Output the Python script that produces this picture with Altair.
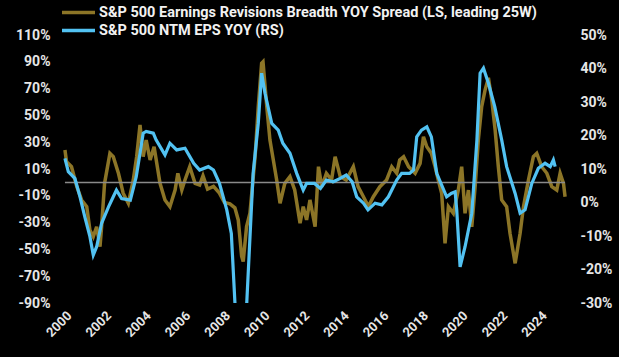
import altair as alt
import pandas as pd

OLIVE_LABEL = "S&P 500 Earnings Revisions Breadth YOY Spread (LS, leading 25W)"
BLUE_LABEL = "S&P 500 NTM EPS YOY (RS)"
OLIVE = "#8C7527"
BLUE = "#52C2F2"

olive_year = [2000.0, 2000.08, 2000.33, 2000.6, 2000.84, 2001.1, 2001.26, 2001.43, 2001.6, 2001.77,
              2001.85, 2002.0, 2002.27, 2002.44, 2002.7, 2002.94, 2003.2, 2003.45, 2003.62, 2003.79,
              2003.95, 2004.1, 2004.3, 2004.5, 2004.8, 2005.05, 2005.3, 2005.56, 2005.7, 2005.9,
              2006.06, 2006.3, 2006.57, 2006.8, 2006.97, 2007.2, 2007.5, 2007.8, 2008.05, 2008.33,
              2008.58, 2008.75, 2008.92, 2009.0, 2009.17, 2009.34, 2009.6, 2009.76, 2009.93, 2010.0,
              2010.19, 2010.35, 2010.52, 2010.69, 2010.86, 2011.1, 2011.36, 2011.6, 2011.87, 2012.03,
              2012.2, 2012.37, 2012.63, 2012.8, 2012.97, 2013.2, 2013.46, 2013.64, 2013.9, 2014.2,
              2014.56, 2014.8, 2015.07, 2015.32, 2015.57, 2015.9, 2016.24, 2016.5, 2016.75, 2016.9,
              2017.1, 2017.35, 2017.68, 2017.93, 2018.1, 2018.27, 2018.5, 2018.69, 2018.85, 2019.02,
              2019.19, 2019.36, 2019.61, 2019.86, 2020.03, 2020.2, 2020.37, 2020.54, 2020.71, 2020.87,
              2021.04, 2021.21, 2021.38, 2021.55, 2021.72, 2021.88, 2022.05, 2022.3, 2022.47, 2022.73,
              2022.98, 2023.15, 2023.4, 2023.65, 2023.82, 2024.07, 2024.33, 2024.58, 2024.83, 2025.0,
              2025.17, 2025.25]
olive_value = [24.2, 15.4, 11.7, -3.2, -13.1, -18.1, -35.5, -40.5, -33.1, -48.0,
               -33.1, -0.7, 21.7, 19.2, 6.8, -8.1, -15.6, 1.8, 19.2, 42.8,
               19.2, 31.6, 16.7, 26.6, -0.7, -13.1, -18.1, -5.7, 6.8, -5.7,
               1.8, 11.7, -0.7, -2.0, 5.0, -5.0, -3.0, -8.0, -15.0, -16.0,
               -19.0, -28.0, -55.0, -59.0, -33.0, -23.0, 19.0, 56.5, 88.9, 90.0,
               56.5, 31.6, 16.7, 1.8, -15.6, -0.7, 4.3, -5.7, -30.5, -18.1,
               -28.0, -13.1, -33.1, 11.7, -3.2, 6.8, 1.8, 19.2, 4.3, 1.8,
               11.7, -3.2, -10.7, -18.1, -10.7, -3.2, 1.8, 11.7, 6.8, 16.7,
               19.2, 11.7, 6.8, 14.2, 34.1, 26.6, 21.7, 11.7, 1.8, -8.1,
               -45.5, -18.1, -23.1, -5.7, 11.7, -23.1, -5.7, -33.1, -3.2, 31.6,
               56.5, 68.9, 78.0, 61.5, 39.1, 11.7, -13.1, -18.1, -38.0, -60.4,
               -38.0, -18.1, 1.8, 19.2, 21.7, 11.7, 6.8, -3.2, -5.7, 6.8,
               -0.7, -10.7]

blue_year = [2000.0, 2000.17, 2000.5, 2000.76, 2001.0, 2001.26, 2001.43, 2001.6, 2001.85, 2002.2,
             2002.44, 2002.6, 2002.86, 2003.3, 2003.6, 2003.95, 2004.1, 2004.46, 2004.6, 2005.05,
             2005.3, 2005.64, 2006.06, 2006.5, 2006.8, 2007.24, 2007.5, 2007.8, 2008.17, 2008.4,
             2008.6, 2008.8, 2009.0, 2009.17, 2009.5, 2009.76, 2009.93, 2010.1, 2010.44, 2010.77,
             2011.0, 2011.36, 2011.7, 2012.03, 2012.2, 2012.6, 2012.9, 2013.2, 2013.55, 2013.9,
             2014.2, 2014.5, 2014.73, 2015.07, 2015.3, 2015.66, 2016.0, 2016.33, 2016.75, 2017.0,
             2017.4, 2017.6, 2017.76, 2018.0, 2018.27, 2018.5, 2018.77, 2019.27, 2019.5, 2019.7,
             2019.78, 2019.95, 2020.2, 2020.54, 2020.8, 2020.96, 2021.13, 2021.38, 2021.7, 2022.05,
             2022.3, 2022.73, 2022.98, 2023.23, 2023.57, 2023.9, 2024.24, 2024.5, 2024.66, 2024.75]
blue_value = [13.2, 9.2, 7.2, 1.7, -4.2, -10.2, -15.7, -13.2, -6.2, -1.3,
              1.7, 3.7, 1.2, 0.7, 7.7, 20.7, 21.2, 20.7, 18.7, 14.2,
              17.7, 15.7, 16.2, 11.7, 9.7, 10.7, 9.7, 5.7, -2.2, -9.2,
              -32.0, -38.0, -38.0, -31.0, 8.7, 23.6, 38.6, 32.6, 23.6, 21.6,
              17.7, 14.7, 8.7, 3.7, 5.7, 5.7, 4.2, 6.7, 6.2, 7.2,
              8.2, 6.2, 1.7, -0.2, -2.2, -0.2, -0.7, 1.7, 6.7, 8.7,
              8.7, 9.7, 19.6, 21.6, 22.6, 19.6, 8.7, 1.7, 2.7, 3.2,
              -2.2, -19.2, -13.2, -3.2, 18.7, 38.6, 40.1, 35.6, 28.6, 18.7,
              10.7, 2.7, -3.2, -2.2, 5.7, 10.2, 11.7, 10.7, 12.7, 10.7]

left_ticks = list(range(-90, 111, 20))
right_ticks = list(range(-30, 51, 10))
year_ticks = list(range(2000, 2025, 2))

olive_df = pd.DataFrame({"year": olive_year, "value": olive_value, "series": OLIVE_LABEL})
blue_df = pd.DataFrame({"year": blue_year, "value": blue_value, "series": BLUE_LABEL})
zero_df = pd.DataFrame({"year": [olive_year[0]], "year2": [olive_year[-1]], "value": [0]})

label_style = dict(labelColor="#e6e6e6", labelFont="Roboto", labelFontSize=14,
                   labelFontWeight="bold", grid=False, domain=False, ticks=False, title=None,
                   labelOverlap=False)

x_scale = alt.Scale(domain=[1999.75, 2025.6], nice=False, zero=False)
x_enc = alt.X("year:Q", scale=x_scale,
              axis=alt.Axis(values=year_ticks, format="d", labelAngle=-45, labelPadding=6,
                            **{**label_style, "labelFontSize": 13}))

color = alt.Color("series:N",
                  scale=alt.Scale(domain=[OLIVE_LABEL, BLUE_LABEL], range=[OLIVE, BLUE]),
                  legend=alt.Legend(orient="none", legendX=11, legendY=-30, title=None,
                                    symbolType="M-3,0L3,0", symbolSize=121, symbolStrokeWidth=3.5,
                                    labelColor="#f2f2f2", labelFont="Roboto", labelFontSize=14.5,
                                    labelFontWeight="bold", labelOffset=13, rowPadding=2,
                                    labelLimit=600))

left_axis = alt.Axis(orient="left", values=left_ticks, labelExpr="datum.value + '%'",
                     labelPadding=10, **label_style)
left_scale = alt.Scale(domain=[-90, 110], nice=False)
left_y = alt.Y("value:Q", scale=left_scale, axis=left_axis)
right_y = alt.Y("value:Q", scale=alt.Scale(domain=[-30, 50], nice=False),
                axis=alt.Axis(orient="right", values=right_ticks, labelExpr="datum.value + '%'",
                              labelPadding=8, **label_style))

olive_line = alt.Chart(olive_df).mark_line(strokeWidth=3.5, clip=True).encode(
    x=x_enc, y=left_y, color=color)
zero_rule = alt.Chart(zero_df).mark_rule(color="#8a8a8a", strokeWidth=1.5).encode(
    x=x_enc, x2="year2:Q", y=left_y)
left_layer = alt.layer(olive_line, zero_rule)

blue_line = alt.Chart(blue_df).mark_line(strokeWidth=3.2, clip=True).encode(
    x=x_enc, y=right_y, color=color)

chart = alt.layer(left_layer, blue_line).resolve_scale(y="independent").properties(
    width=512, height=268,
    padding={"left": 60, "top": 35, "right": 47, "bottom": 54},
    autosize=alt.AutoSizeParams(type="none"),
    background="black",
).configure_view(stroke=None).configure_axis(labelOverlap=False)

chart.save("out.html", embed_options={"renderer": "svg", "actions": False})
